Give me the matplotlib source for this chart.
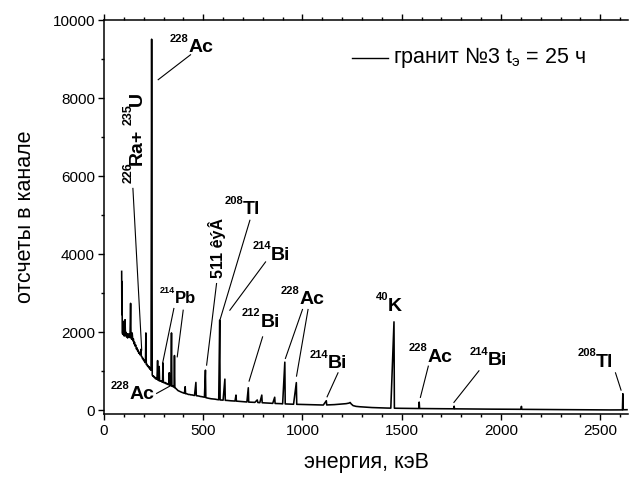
import matplotlib
matplotlib.use('Agg')
import matplotlib.pyplot as plt
from matplotlib.ticker import MultipleLocator
from matplotlib.transforms import offset_copy

plt.rcParams['font.family'] = 'Liberation Sans'
plt.rcParams['mathtext.fontset'] = 'custom'
plt.rcParams['mathtext.rm'] = 'Liberation Sans'
plt.rcParams['mathtext.it'] = 'Liberation Sans'
plt.rcParams['mathtext.bf'] = 'Liberation Sans:bold'

# spectrum (energy in keV, counts per channel)
energy = [89, 90, 91, 92, 94, 96, 98, 100, 102, 104,
          106, 108, 110, 113, 116, 119, 122, 125, 128, 131,
          134, 136, 139, 142, 145, 148, 151, 154, 157, 160,
          163, 166, 169, 172, 175, 178, 181, 184, 186, 188,
          191, 194, 197, 200, 203, 206, 209, 211, 213, 216,
          219, 222, 225, 228, 231, 234, 237, 240, 243, 246,
          249, 252, 255, 258, 261, 264, 267, 270, 272, 275,
          278, 280, 284, 288, 292, 295, 297, 299, 303, 307,
          311, 315, 319, 323, 326, 329, 331, 334, 337, 340,
          342, 346, 350, 353, 355, 357, 361, 365, 369, 373,
          377, 381, 385, 390, 395, 400, 405, 409, 411, 416,
          421, 426, 432, 438, 444, 450, 456, 463, 465, 471,
          478, 485, 492, 500, 506, 511, 513, 520, 530, 540,
          550, 560, 570, 578, 583, 585, 592, 600, 609, 611,
          620, 630, 640, 650, 660, 665, 667, 680, 690, 700,
          710, 720, 727, 729, 740, 750, 760, 772, 775, 785,
          795, 797, 810, 825, 840, 850, 860, 862, 875, 890,
          900, 911, 913, 925, 940, 955, 969, 971, 985, 1000,
          1015, 1030, 1050, 1070, 1090, 1105, 1120, 1122, 1140, 1160,
          1180, 1200, 1220, 1235, 1240, 1245, 1255, 1270, 1290, 1310,
          1330, 1350, 1375, 1400, 1425, 1445, 1461, 1463, 1480, 1500,
          1530, 1560, 1586, 1588, 1590, 1620, 1660, 1700, 1740, 1762,
          1764, 1766, 1800, 1850, 1900, 1950, 2000, 2050, 2101, 2103,
          2105, 2150, 2200, 2250, 2300, 2350, 2400, 2450, 2500, 2550,
          2600, 2612, 2614, 2616, 2635]
counts = [3560, 2450, 3300, 2000, 1950, 2150, 1930, 2280, 1900, 2050,
          2320, 1920, 2000, 1880, 1960, 1850, 1950, 1880, 1960, 1860,
          2740, 1890, 1820, 1980, 1780, 1830, 1700, 1740, 1640, 1670,
          1570, 1600, 1520, 1540, 1460, 1480, 1420, 1430, 1560, 1380,
          1370, 1320, 1330, 1270, 1280, 1220, 1230, 1980, 1170, 1180,
          1130, 1140, 1090, 1110, 1050, 1070, 1020, 9520, 900, 870,
          880, 840, 850, 810, 820, 790, 800, 1270, 770, 760,
          1120, 750, 740, 750, 720, 730, 1210, 710, 700, 710,
          680, 690, 660, 670, 650, 960, 640, 650, 630, 1980,
          610, 620, 590, 600, 1400, 570, 560, 540, 520, 500,
          490, 480, 470, 460, 450, 440, 430, 600, 420, 420,
          410, 400, 400, 390, 390, 380, 375, 710, 370, 365,
          360, 350, 345, 335, 330, 1025, 320, 310, 300, 290,
          285, 280, 270, 265, 2310, 260, 258, 255, 795, 250,
          248, 242, 238, 235, 232, 385, 230, 225, 220, 215,
          212, 208, 573, 205, 203, 200, 198, 260, 195, 190,
          385, 188, 185, 180, 176, 172, 330, 170, 168, 165,
          160, 1230, 158, 155, 152, 150, 705, 148, 146, 145,
          142, 140, 138, 135, 132, 130, 240, 132, 135, 140,
          148, 155, 165, 180, 195, 160, 115, 95, 85, 78,
          70, 65, 60, 55, 52, 50, 2265, 48, 46, 45,
          43, 42, 40, 205, 40, 38, 37, 35, 34, 33,
          100, 32, 30, 28, 26, 24, 22, 20, 20, 95,
          19, 18, 16, 14, 12, 10, 8, 6, 5, 4,
          5, 5, 420, 8, 10]

# isotope labels: anchor at the join of mass number and symbol, on the symbol baseline
lab_mass = ['228', '214', '208', '214', '212', '228', '214', '228', '40', '228', '214', '208']
lab_elem = ['Ac', 'Pb', 'Tl', 'Bi', 'Bi', 'Ac', 'Bi', 'Ac', 'K', 'Ac', 'Bi', 'Tl']
lab_x = [427, 355, 701, 842, 789, 985, 1129, 127, 1431, 1631, 1934, 2479]
lab_y = [9187, 2736, 5026, 3864, 2136, 2718, 1069, 280, 2546, 1238, 1154, 1110]
lab_size = [14, 12, 14, 14, 14, 14, 14, 14, 14, 14, 14, 14]
lab_sup = [8, 6.5, 8, 8, 8, 8, 8, 8, 8, 8, 8, 8]

# leader lines from labels to peaks
lead_x0 = [436, 145.6, 352, 399, 567, 735, 814, 799, 1000, 1028, 1179, 265, 1634, 1889, 2577]
lead_y0 = [9120, 5690, 2608, 2564, 3248, 4872, 3803, 1879, 2582, 2582, 956, 428, 1128, 1008, 956]
lead_x1 = [273, 190, 295, 369, 517, 584, 634, 731, 914, 970, 1124, 341, 1594, 1763, 2605]
lead_y1 = [8480, 1540, 1197, 1367, 1154, 2308, 2564, 744, 1326, 872, 341, 641, 326, 197, 513]

# rotated label 226Ra+235U, pieces placed bottom to top
ra_text = ['226', 'Ra+', '235', 'U']
ra_x = [139, 192, 139, 192]
ra_y = [5821, 6282, 7330, 7800]
ra_size = [9, 14, 9, 14]

fig = plt.figure(figsize=(6.33, 4.83), dpi=100)
ax = fig.add_axes([0.1643, 0.1429, 0.8278, 0.8147])

ax.plot(energy, counts, color='black', lw=1.15)

for x0, y0, x1, y1 in zip(lead_x0, lead_y0, lead_x1, lead_y1):
    ax.plot([x0, x1], [y0, y1], color='black', lw=0.8)

sup_tr = offset_copy(ax.transData, fig=fig, x=0, y=7.5, units='points')
for x, y, m, el, fs, ss in zip(lab_x, lab_y, lab_mass, lab_elem, lab_size, lab_sup):
    ax.text(x, y, m, fontsize=ss, fontweight='bold', ha='right', va='baseline', transform=sup_tr)
    ax.text(x, y, el, fontsize=fs, fontweight='bold', ha='left', va='baseline')

for t, x, y, fs in zip(ra_text, ra_x, ra_y, ra_size):
    ax.text(x, y, t, fontsize=fs, fontweight='bold', rotation=90,
            rotation_mode='anchor', ha='left', va='baseline')

ax.text(599, 3392, '511 êýÂ', fontsize=11.5, fontweight='bold', rotation=90,
        rotation_mode='anchor', ha='left', va='baseline')

# legend drawn by hand
ax.plot([0.473, 0.542], [0.905, 0.905], transform=ax.transAxes, color='black', lw=1.0)
ax.text(0.552, 0.905, 'гранит №3 t$_\\mathrm{э}$ = 25 ч', transform=ax.transAxes,
        fontsize=15.5, ha='left', va='center')

ax.set_xlim(0, 2640)
ax.set_ylim(-100, 10000)
ax.xaxis.set_major_locator(MultipleLocator(500))
ax.xaxis.set_minor_locator(MultipleLocator(100))
ax.yaxis.set_major_locator(MultipleLocator(2000))
ax.yaxis.set_minor_locator(MultipleLocator(1000))
ax.spines['right'].set_visible(False)
for s in ['left', 'bottom', 'top']:
    ax.spines[s].set_linewidth(1.1)
ax.tick_params(which='both', direction='out', top=True, right=False, width=1.0, labelsize=11)
ax.tick_params(which='major', length=4.5)
ax.tick_params(which='minor', length=2.2)
ax.tick_params(axis='x', pad=3)
ax.tick_params(axis='y', pad=2)

ax.set_xlabel('энергия, кэВ', fontsize=15.5, labelpad=10)
ax.set_ylabel('отсчеты в канале', fontsize=15.5, labelpad=12)

fig.savefig('out.png', dpi=100)
